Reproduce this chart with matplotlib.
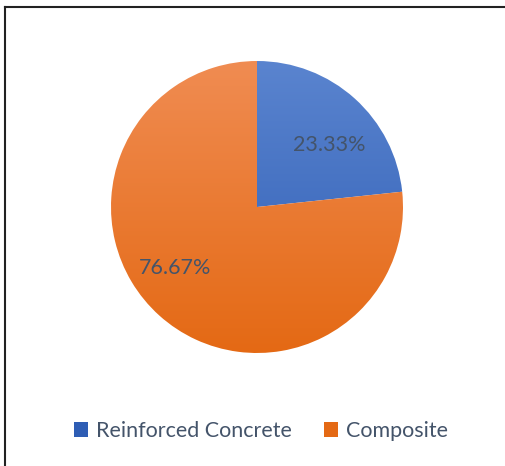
import numpy as np
import matplotlib.pyplot as plt
from matplotlib.colors import LinearSegmentedColormap
from matplotlib.patches import Rectangle
from matplotlib.lines import Line2D

# Dane wykresu
categories = ['Reinforced Concrete', 'Composite']
shares = [23.33, 76.67]
label_text = ['23.33%', '76.67%']

W, H = 505, 466
fig = plt.figure(figsize=(W / 100, H / 100), dpi=100)
ax = fig.add_axes([0, 0, 1, 1])

cx, cy, r = 257, H - 207, 146
wedges, _ = ax.pie(shares, center=(cx, cy), radius=r, startangle=90,
                   counterclock=False, frame=True,
                   wedgeprops={'linewidth': 0})

# gradient (jasniej u gory, ciemniej na dole)
grads = [('#5A84CF', '#2E5DB4'), ('#F08C52', '#E46914')]
grad = np.linspace(0, 1, 256).reshape(-1, 1)
for w, (top, bottom) in zip(wedges, grads):
    w.set_facecolor('none')
    cmap = LinearSegmentedColormap.from_list('g', [bottom, top])
    im = ax.imshow(grad, cmap=cmap, origin='lower', aspect='auto',
                   extent=[cx - r, cx + r, cy - r, cy + r], zorder=1)
    im.set_clip_path(w)
ax.set_xlim(0, W)
ax.set_ylim(0, H)
ax.axis('off')

font = ['Lato', 'DejaVu Sans']
txt_col = '#44546A'
fs = 15.5
ax.text(329, H - 145, label_text[0], ha='center', va='center',
        fontsize=fs, color=txt_col, family=font, zorder=3)
ax.text(175, H - 268, label_text[1], ha='center', va='center',
        fontsize=fs, color=txt_col, family=font, zorder=3)

# legenda
handles = [Rectangle((0, 0), 1, 1, facecolor=g[1], edgecolor='none') for g in grads]
leg = fig.legend(handles, categories, loc='center', bbox_to_anchor=(261 / W, 1 - 431 / H),
                 ncol=2, frameon=False, handlelength=0.65, handleheight=0.65,
                 handletextpad=0.35, columnspacing=1.5, prop={'family': font, 'size': fs})
for t in leg.get_texts():
    t.set_color(txt_col)

# ramka (tylko gora i lewa strona widoczne)
fig.add_artist(Line2D([5 / W, 5 / W], [0, 1 - 7 / H], color='#222222', lw=1.5))
fig.add_artist(Line2D([5 / W, 1], [1 - 7 / H, 1 - 7 / H], color='#222222', lw=1.5))

fig.savefig('out.png', dpi=100)
